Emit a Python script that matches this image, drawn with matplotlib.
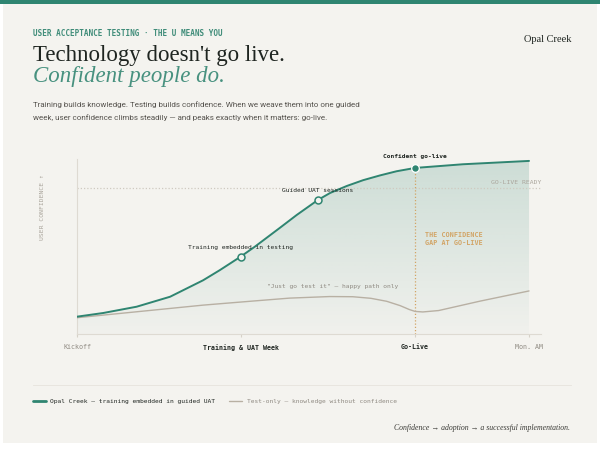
import numpy as np
import matplotlib
matplotlib.use("Agg")
import matplotlib.pyplot as plt
from matplotlib.colors import LinearSegmentedColormap
from matplotlib.patches import Rectangle
from matplotlib.lines import Line2D

# ---------------- data ----------------
stage_labels = ["Kickoff", "Training & UAT Week", "Go-Live", "Mon. AM"]
stage_pos = [0, 36.3, 74.8, 100]

uat_x = [0, 5.8, 13.2, 20.6, 27.9, 31.6, 36.2, 39.4, 44.9, 48.6, 53.3, 56.0, 59.7,
         63.3, 67.0, 70.7, 74.8, 85.4, 100]
uat_y = [9.9, 12.0, 15.6, 21.3, 30.7, 36.5, 44.2, 50.0, 60.7, 68.0, 76.6, 80.6, 84.6,
         87.9, 90.6, 93.0, 94.9, 97.0, 98.9]

test_x = [0, 13.2, 27.9, 38.3, 47.0, 55.9, 61.0, 65.0, 68.5, 71.5, 73.5, 74.8, 76.5,
          80.0, 89.2, 100]
test_y = [9.3, 12.7, 16.5, 18.7, 20.5, 21.4, 21.3, 20.4, 18.7, 16.2, 14.0, 12.9, 12.6,
          13.4, 18.8, 24.6]

milestone_labels = ["Training embedded in testing", "Guided UAT sessions", "Confident go-live"]
milestone_x = [36.2, 53.3, 74.8]
milestone_y = [44.2, 76.6, 94.9]

golive_ready = 83.6

# ---------------- style ----------------
BG = "#f4f3ef"
TEAL = "#2f8571"
GREY_LINE = "#b8b0a3"
DARK = "#1f2521"
MUTED = "#8f8a82"
TAN = "#d2a465"
MONO = "DejaVu Sans Mono"
SERIF = ["Liberation Serif", "DejaVu Serif"]
SANS = "Roboto"

W, H = 600, 451
fig = plt.figure(figsize=(6, 4.51), dpi=100, facecolor="white")


def fx(x):
    return x / W


def fy(y):
    return 1 - y / H


# card + top bar
fig.patches.append(Rectangle((fx(3), fy(443)), fx(594), 443 / H, transform=fig.transFigure,
                             facecolor=BG, edgecolor="none", zorder=-2))
fig.patches.append(Rectangle((0, fy(4)), 1, 4 / H, transform=fig.transFigure,
                             facecolor=TEAL, edgecolor="none", zorder=-1))

# header
fig.text(fx(33), fy(34), "USER ACCEPTANCE TESTING · THE U MEANS YOU", family=MONO,
         fontsize=5.5, fontweight="bold", color="#3f8c79", va="center", ha="left")
fig.text(fx(33), fy(61), "Technology doesn't go live.", family=SERIF, fontsize=16.5,
         color=DARK, va="baseline", ha="left")
fig.text(fx(33), fy(81.7), "Confident people do.", family=SERIF, fontsize=16.5,
         style="italic", color="#47917f", va="baseline", ha="left")
fig.text(fx(33), fy(105), "Training builds knowledge. Testing builds confidence. When we weave them into one guided",
         family=SANS, fontsize=5.8, color="#55524d", va="center", ha="left")
fig.text(fx(33), fy(117.3), "week, user confidence climbs steadily — and peaks exactly when it matters: go-live.",
         family=SANS, fontsize=5.8, color="#55524d", va="center", ha="left")
fig.text(fx(571), fy(40), "Opal Creek", family=SERIF, fontsize=7.5, color=DARK,
         va="center", ha="right")

# axes
ax = fig.add_axes([fx(77), fy(334), (541 - 77) / W, (334 - 159) / H])
ax.set_facecolor("none")
ax.set_xlim(0, 102.65)
ax.set_ylim(0, 100)
for s in ["top", "right"]:
    ax.spines[s].set_visible(False)
for s in ["left", "bottom"]:
    ax.spines[s].set_color("#dedad2")
    ax.spines[s].set_linewidth(0.8)
ax.set_yticks([])
ax.set_xticks(stage_pos)
ax.set_xticklabels(stage_labels, family=MONO, fontsize=4.8)
ax.tick_params(axis="x", length=2.5, color="#d6d1c8", pad=5)
for i, t in enumerate(ax.get_xticklabels()):
    if i in (1, 2):
        t.set_color(DARK)
        t.set_fontweight("bold")
    else:
        t.set_color(MUTED)
ax.set_ylabel("USER CONFIDENCE ↑", family=MONO, fontsize=4.6, color="#a9a49b")
ax.yaxis.set_label_coords(-0.069, 0.727)

# gradient fill under the Opal Creek curve
poly = ax.fill_between(uat_x, uat_y, 0, facecolor="none", edgecolor="none")
r, g, b = matplotlib.colors.to_rgb(TEAL)
cmap = LinearSegmentedColormap.from_list("fade", [(r, g, b, 0.02), (r, g, b, 0.2)])
grad = np.linspace(0, 1, 256).reshape(-1, 1)
im = ax.imshow(grad, extent=[0, 100, 0, 100], origin="lower", aspect="auto", cmap=cmap,
               zorder=1, interpolation="bilinear")
im.set_clip_path(poly.get_paths()[0], transform=ax.transData)
ax.set_xlim(0, 102.65)
ax.set_ylim(0, 100)

# reference lines
ax.axhline(golive_ready, color="#cfcac1", lw=0.9, ls=(0, (1, 1.6)), zorder=2)
ax.annotate("GO-LIVE READY", xy=(1, golive_ready), xycoords=("axes fraction", "data"),
            xytext=(0, 3.7), textcoords="offset points", ha="right", va="center",
            family=MONO, fontsize=4.6, color="#aaa59c")
ax.plot([milestone_x[2], milestone_x[2]], [0, milestone_y[2]], color=TAN, lw=0.9,
        ls=(0, (1, 1.6)), zorder=2)

# series
l_test, = ax.plot(test_x, test_y, color=GREY_LINE, lw=1.0, zorder=3,
                  label="Test-only — knowledge without confidence",
                  solid_capstyle="round", solid_joinstyle="round")
l_uat, = ax.plot(uat_x, uat_y, color=TEAL, lw=1.4, zorder=4,
                 label="Opal Creek — training embedded in guided UAT",
                 solid_capstyle="round", solid_joinstyle="round")

# milestones
ax.plot(milestone_x[:2], milestone_y[:2], ls="none", marker="o", ms=5, mfc=BG, mec=TEAL,
        mew=1.1, zorder=5)
ax.plot(milestone_x[2:], milestone_y[2:], ls="none", marker="o", ms=5.5, mfc=TEAL,
        mec="white", mew=0.9, zorder=5)
offsets = [6.5, 6.7, 8.1]
for lab, mx, my, off, bold in zip(milestone_labels, milestone_x, milestone_y, offsets,
                                  [False, False, True]):
    ax.annotate(lab, xy=(mx, my), xytext=(0, off), textcoords="offset points",
                ha="center", va="center", family=MONO, fontsize=4.5,
                fontweight="bold" if bold else "normal", color=DARK, zorder=6)

ax.text(56.6, 27.4, "\"Just go test it\" — happy path only", family=MONO, fontsize=4.5,
        color=MUTED, ha="center", va="center")
ax.text(77.0, 54.2, "THE CONFIDENCE\nGAP AT GO-LIVE", family=MONO, fontsize=4.9,
        fontweight="bold", color=TAN, ha="left", va="center", linespacing=1.35)

# separator + legend
fig.add_artist(Line2D([fx(33), fx(571)], [fy(385), fy(385)], color="#e6e3dc", lw=0.6))
leg = fig.legend(handles=[l_uat, l_test], loc="center left",
                 bbox_to_anchor=(fx(33), fy(401.5)), ncol=2, frameon=False,
                 prop={"family": MONO, "size": 4.5}, handlelength=2.0, handletextpad=0.8,
                 columnspacing=2.2, borderpad=0, borderaxespad=0)
leg.get_texts()[0].set_color(DARK)
leg.get_texts()[1].set_color(MUTED)
leg.legend_handles[0].set_linewidth(2.0)
leg.legend_handles[1].set_linewidth(1.0)

fig.text(fx(570), fy(427.5), "Confidence → adoption → a successful implementation.",
         family=SERIF, fontsize=5.6, style="italic", color="#3a3a36", ha="right", va="center")

fig.savefig("out.png", dpi=100, facecolor="white")
